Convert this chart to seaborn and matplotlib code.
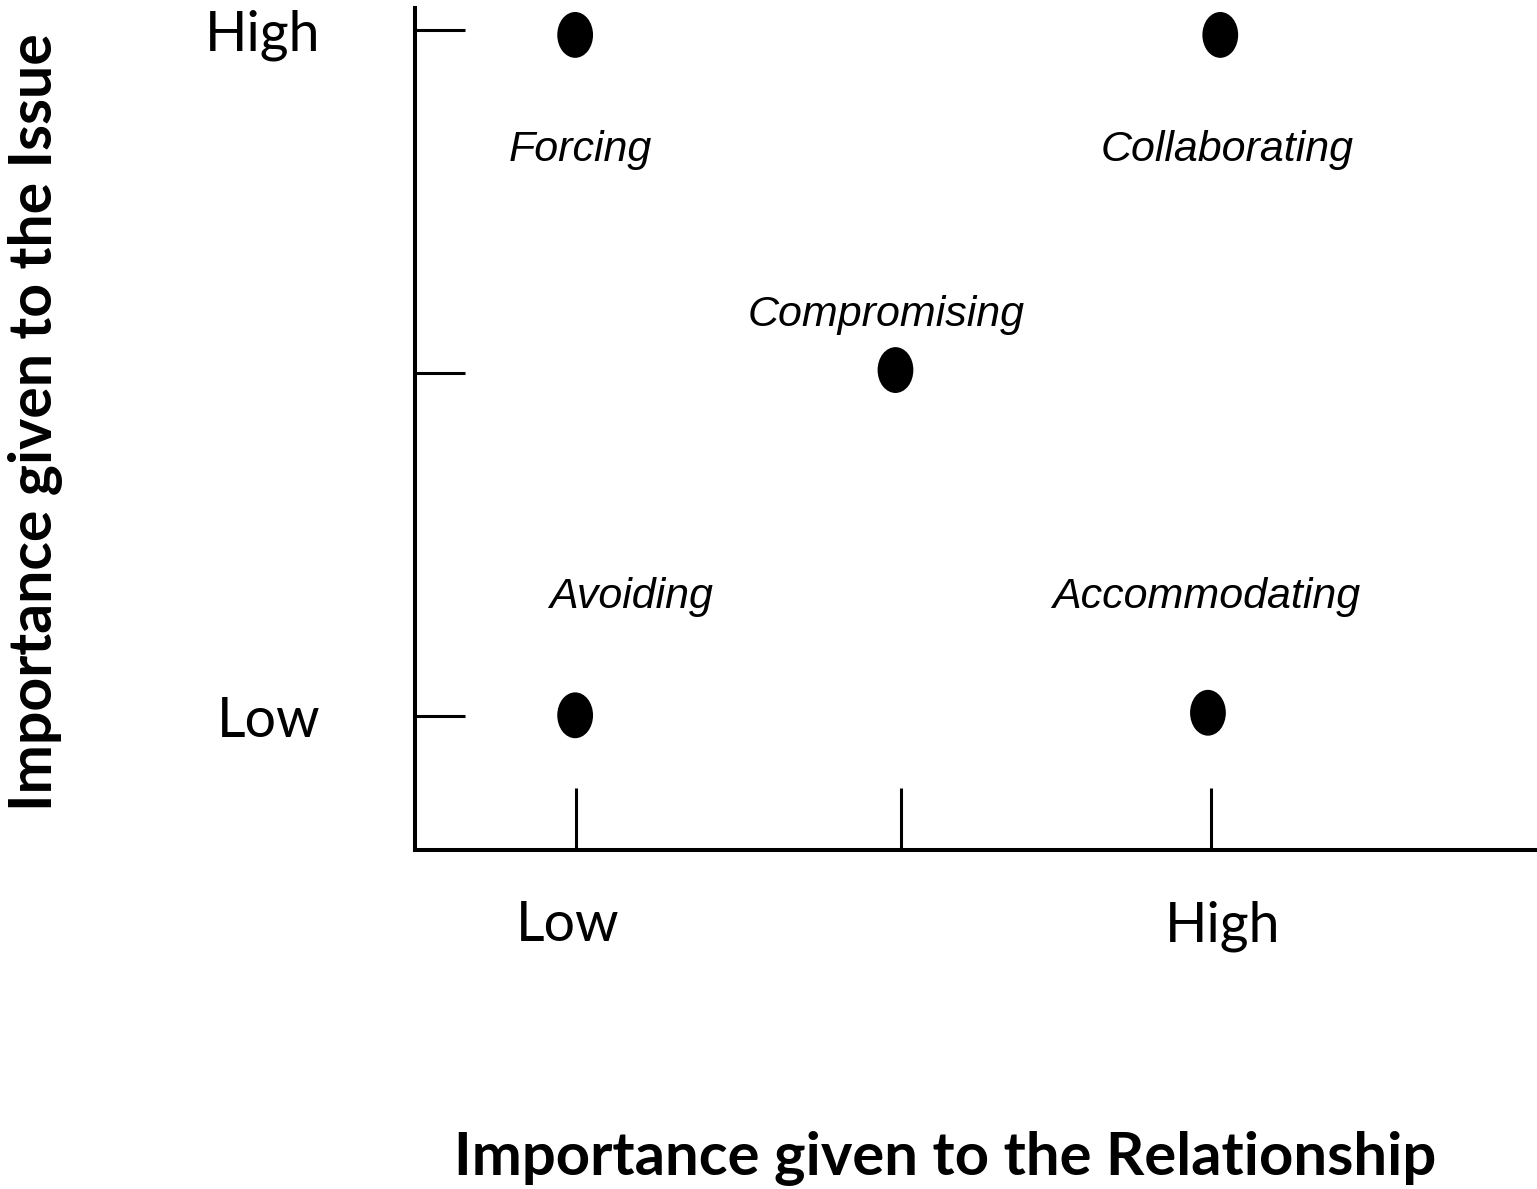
import numpy as np
import pandas as pd
import seaborn as sns
import matplotlib.pyplot as plt
from matplotlib.path import Path
from matplotlib.transforms import ScaledTranslation

# conflict styles: position on the relationship (x) / issue (y) grid, 0-10 scale
styles = ["Forcing", "Collaborating", "Compromising", "Avoiding", "Accommodating"]
relationship = [1.43, 7.19, 4.29, 1.43, 7.08]
issue = [9.68, 9.68, 5.70, 1.60, 1.63]

# where each style name sits
label_x = [1.48, 7.25, 4.21, 1.93, 7.06]
label_y = [8.31, 8.31, 6.35, 3.00, 3.00]

x_ticks = [1.44, 4.34, 7.11]
x_tick_labels = ["Low", "", "High"]
y_ticks = [1.59, 5.67, 9.74]
y_tick_labels = ["Low", "", "High"]

df = pd.DataFrame({"style": styles, "relationship": relationship, "issue": issue})

sns.set_style("ticks")
plt.rcParams["font.family"] = ["Lato", "DejaVu Sans"]
plt.rcParams["text.color"] = "black"
plt.rcParams["axes.labelcolor"] = "black"
plt.rcParams["xtick.labelcolor"] = "black"
plt.rcParams["ytick.labelcolor"] = "black"

fig = plt.figure(figsize=(15.37, 11.89), dpi=100)
ax = fig.add_axes([0.270, 0.2851, 0.7287, 0.7082])

# slightly tall dots like the original
circ = Path.unit_circle()
dot = Path(circ.vertices * np.array([0.78, 1.0]), circ.codes)

sns.scatterplot(data=df, x="relationship", y="issue", marker=dot, s=1090,
                color="black", edgecolor="none", linewidth=0, ax=ax, legend=False)

for name, lx, ly in zip(styles, label_x, label_y):
    ax.text(lx, ly, name, ha="center", va="center", fontsize=31,
            style="italic", family=["Liberation Sans", "DejaVu Sans"], color="black")

ax.set_xlim(0, 10)
ax.set_ylim(0, 10)
ax.set_xticks(x_ticks)
ax.set_xticklabels(x_tick_labels)
ax.set_yticks(y_ticks)
ax.set_yticklabels(y_tick_labels)

ax.tick_params(axis="x", direction="in", length=45, width=2.2, pad=36,
               labelsize=40, color="black", labelcolor="black")
ax.tick_params(axis="y", direction="in", length=36, width=2.2, pad=68,
               labelsize=40, color="black", labelcolor="black")

# the x labels sit a little off their ticks in the original
for lab, dx in zip(ax.get_xticklabels(), [-9, 0, 11]):
    lab.set_transform(lab.get_transform() + ScaledTranslation(dx / 100, 0, fig.dpi_scale_trans))

for side in ["top", "right"]:
    ax.spines[side].set_visible(False)
for side in ["left", "bottom"]:
    ax.spines[side].set_linewidth(2.9)
    ax.spines[side].set_color("black")

ax.set_xlabel("Importance given to the Relationship", fontsize=43,
              fontweight="bold", va="center", ha="center", color="black")
ax.set_ylabel("Importance given to the Issue", fontsize=42.5,
              fontweight="bold", va="center", ha="center", color="black")
ax.xaxis.set_label_coords(0.473, -0.366)
ax.yaxis.set_label_coords(-0.339, 0.508)

fig.savefig("out.png", dpi=100, facecolor="white")
